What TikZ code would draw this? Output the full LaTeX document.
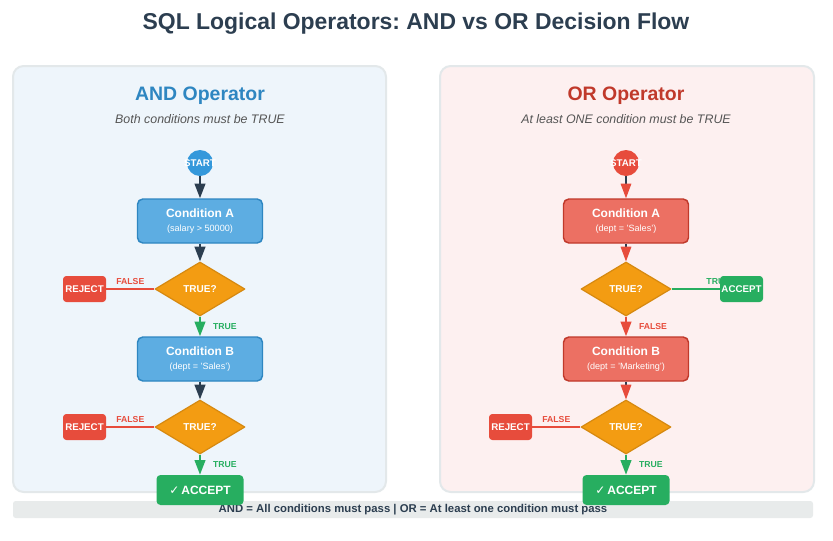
\documentclass[tikz,border=0pt]{standalone}
\usepackage{fontspec}
\setmainfont{Liberation Sans}
\newfontfamily\symfont{DejaVu Sans}
\usetikzlibrary{shapes.geometric,arrows.meta}
\pgfdeclarelayer{panels}
\pgfdeclarelayer{links}
\pgfsetlayers{panels,links,main}
\frenchspacing
\definecolor{darkc}{HTML}{2C3E50}
\definecolor{andc}{HTML}{2E86C1}
\definecolor{andstart}{HTML}{3498DB}
\definecolor{andfill}{HTML}{5DADE2}
\definecolor{orc}{HTML}{C0392B}
\definecolor{orstart}{HTML}{E74C3C}
\definecolor{orfill}{HTML}{EC7063}
\definecolor{decfill}{HTML}{F39C12}
\definecolor{decline}{HTML}{D68910}
\definecolor{rejc}{HTML}{E74C3C}
\definecolor{accc}{HTML}{27AE60}
\definecolor{andbg}{HTML}{EEF5FB}
\definecolor{orbg}{HTML}{FDF0F0}
\definecolor{panelline}{HTML}{E3E8EA}
\definecolor{barc}{HTML}{E8EBEB}
\definecolor{subc}{HTML}{555555}
\tikzset{
  panel/.style={draw=panelline, line width=1.5pt, rounded corners=8pt},
  startnode/.style={circle, minimum size=19.5pt, inner sep=0},
  startlbl/.style={text=white, font=\fontsize{7.3}{8}\selectfont\bfseries},
  cond/.style={draw, line width=1.1pt, rounded corners=4pt, minimum width=93.75pt,
    minimum height=33pt, inner sep=0, text=white, align=center},
  dec/.style={diamond, draw=decline, fill=decfill, line width=0.9pt, minimum width=67.5pt,
    minimum height=40.5pt, inner sep=0, text=white, font=\fontsize{7.5}{9}\selectfont\bfseries},
  smallbox/.style={rounded corners=2.5pt, minimum width=32.25pt, minimum height=19.5pt,
    inner sep=0, text=white, font=\fontsize{7.3}{9}\selectfont\bfseries},
  rej/.style={smallbox, fill=rejc},
  acc/.style={smallbox, fill=accc},
  bigacc/.style={fill=accc, rounded corners=3pt, minimum width=65.25pt, minimum height=22.5pt,
    inner sep=0, text=white, font=\fontsize{9}{10}\selectfont\bfseries},
  tip/.style={-{Triangle[length=11pt,width=8pt,#1]}},
  lbl/.style={inner sep=1pt, font=\fontsize{6.5}{7}\selectfont\bfseries},
}
\newcommand{\condtext}[2]{{\fontsize{9}{11}\selectfont\bfseries #1}\\[-1pt]{\fontsize{6.8}{8}\selectfont #2}}
\begin{document}
\begin{tikzpicture}[x=0.75pt, y=-0.75pt, line join=round]
\useasboundingbox (0,0) rectangle (833,540);
% panels and bottom bar
\begin{pgfonlayer}{panels}
  \fill[white] (0,0) rectangle (833,540);
  \draw[panel, fill=andbg] (13,66) rectangle (386,492);
  \draw[panel, fill=orbg] (440,66) rectangle (814,492);
\end{pgfonlayer}
\node[text=darkc, font=\fontsize{17.2}{20}\selectfont\bfseries] (title) at (416,24) {SQL Logical Operators: AND vs OR Decision Flow};
\node[text=andc, font=\fontsize{14.6}{17}\selectfont\bfseries] (andhead) at (200,96) {AND Operator};
\node[text=subc, font=\fontsize{9.3}{11}\selectfont\itshape] (andsub) at (200,119) {Both conditions must be TRUE};
\node[text=orc, font=\fontsize{14.6}{17}\selectfont\bfseries] (orhead) at (626,96) {OR Operator};
\node[text=subc, font=\fontsize{9.3}{11}\selectfont\itshape] (orsub) at (626,119) {At least ONE condition must be TRUE};

% AND flow
\node[startnode, fill=andstart, label={[startlbl]center:START}] (startA) at (200,163) {};
\node[cond, draw=andc, fill=andfill] (condA1) at (200,221) {\condtext{Condition A}{(salary > 50000)}};
\node[dec] (decA1) at (200,289) {TRUE?};
\node[rej] (rejA1) at (84.5,289) {REJECT};
\node[cond, draw=andc, fill=andfill] (condA2) at (200,359) {\condtext{Condition B}{(dept = 'Sales')}};
\node[dec] (decA2) at (200,427) {TRUE?};
\node[rej] (rejA2) at (84.5,427) {REJECT};
\node[bigacc] (accA) at (200,490) {{\symfont ✓}\,ACCEPT};

% OR flow
\node[startnode, fill=orstart, label={[startlbl]center:START}] (startO) at (626,163) {};
\node[cond, draw=orc, fill=orfill] (condO1) at (626,221) {\condtext{Condition A}{(dept = 'Sales')}};
\node[dec] (decO1) at (626,289) {TRUE?};
\node[acc] (accO1) at (741.5,289) {ACCEPT};
\node[cond, draw=orc, fill=orfill] (condO2) at (626,359) {\condtext{Condition B}{(dept = 'Marketing')}};
\node[dec] (decO2) at (626,427) {TRUE?};
\node[rej] (rejO2) at (510.5,427) {REJECT};
\node[bigacc] (accO2) at (626,490) {{\symfont ✓}\,ACCEPT};

\begin{pgfonlayer}{links}
  \fill[barc, rounded corners=2pt] (13,501) rectangle (813,518);
  \node[text=darkc, font=\fontsize{8.5}{10}\selectfont\bfseries] (legend) at (413,510) {AND = All conditions must pass | OR = At least one condition must pass};
  % AND links
  \draw[darkc, line width=1.5pt, tip] (startA) -- (condA1);
  \draw[darkc, line width=1.5pt, tip] (condA1) -- (decA1);
  \draw[rejc, line width=1.1pt] (decA1.west) -- (rejA1.east) node[lbl, midway, above=1.5pt] {FALSE};
  \draw[accc, line width=1.5pt, tip] (decA1) -- (condA2) node[lbl, midway, right=8pt] {TRUE};
  \draw[darkc, line width=1.5pt, tip] (condA2) -- (decA2);
  \draw[rejc, line width=1.1pt] (decA2.west) -- (rejA2.east) node[lbl, midway, above=1.5pt] {FALSE};
  \draw[accc, line width=1.5pt, tip] (decA2) -- (accA) node[lbl, midway, right=8pt] {TRUE};
  % OR links
  \draw[darkc, line width=0.8pt, tip={color=orstart}] (startO) -- (condO1);
  \draw[darkc, line width=0.8pt, tip={color=orstart}] (condO1) -- (decO1);
  \draw[accc, line width=1.1pt] (decO1.east) -- (accO1.west) node[lbl, pos=0.97, above=1.5pt] {TRUE};
  \draw[orstart, line width=1.5pt, tip] (decO1) -- (condO2) node[lbl, midway, right=8pt] {FALSE};
  \draw[darkc, line width=0.8pt, tip={color=orstart}] (condO2) -- (decO2);
  \draw[rejc, line width=1.1pt] (decO2.west) -- (rejO2.east) node[lbl, midway, above=1.5pt] {FALSE};
  \draw[accc, line width=1.5pt, tip] (decO2) -- (accO2) node[lbl, midway, right=8pt] {TRUE};
\end{pgfonlayer}
\end{tikzpicture}
\end{document}
